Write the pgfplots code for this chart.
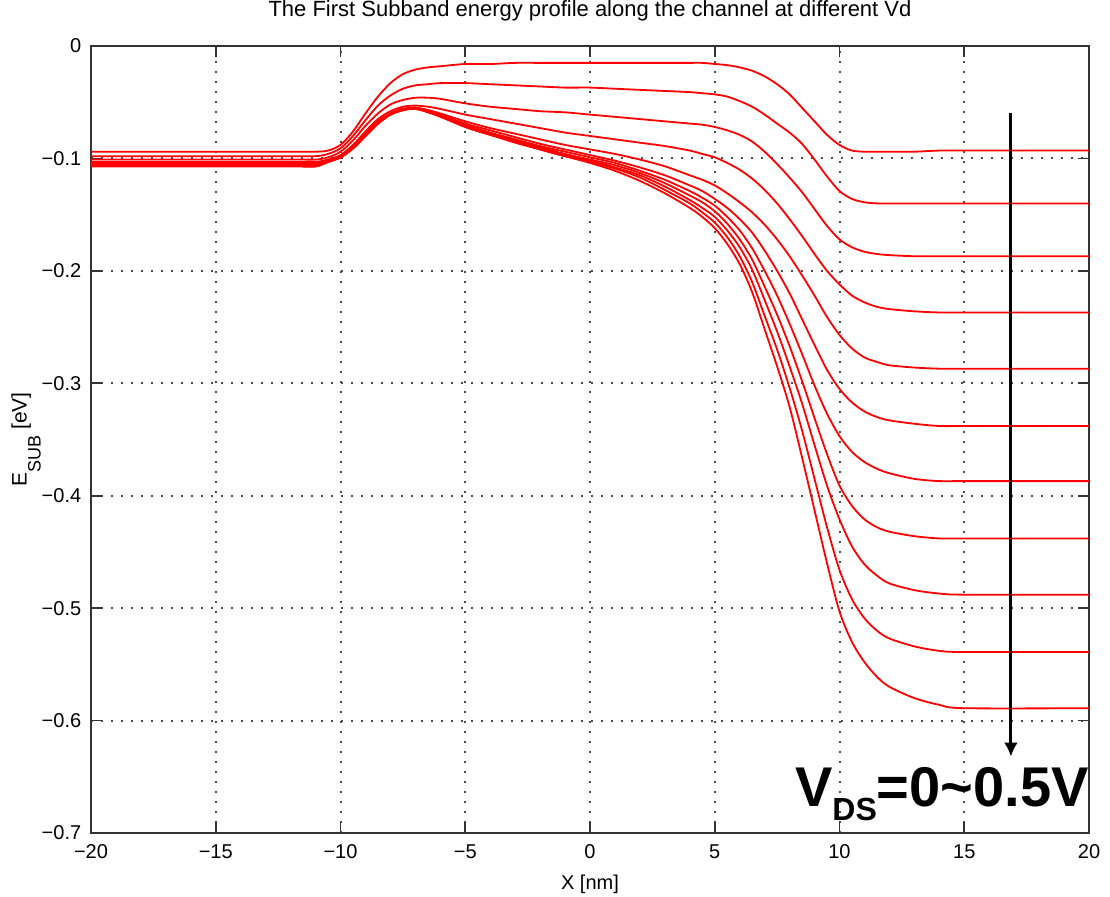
\documentclass[border=0pt]{standalone}
\usepackage{fontspec}
\setmainfont{Liberation Sans}
\usepackage{pgfplots}
\pgfplotsset{compat=1.18}
\usepackage{pgfplotstable}
\usetikzlibrary{arrows.meta}

\pgfplotstableread{
x     k0     k1     k2     k3     k4     k5     k6     k7     k8     k9     k10
-20   -0.094 -0.098 -0.101 -0.103 -0.104 -0.105 -0.106 -0.106 -0.107 -0.107 -0.107
-12   -0.094 -0.098 -0.101 -0.103 -0.104 -0.105 -0.106 -0.106 -0.107 -0.107 -0.107
-11   -0.094 -0.098 -0.101 -0.103 -0.104 -0.105 -0.106 -0.106 -0.107 -0.107 -0.107
-10.5 -0.093 -0.096 -0.099 -0.101 -0.102 -0.102 -0.103 -0.103 -0.103 -0.103 -0.103
-10   -0.088 -0.091 -0.094 -0.097 -0.098 -0.098 -0.099 -0.099 -0.099 -0.099 -0.099
-9.5  -0.076 -0.080 -0.084 -0.088 -0.089 -0.090 -0.090 -0.091 -0.091 -0.091 -0.091
-9    -0.060 -0.066 -0.071 -0.076 -0.078 -0.079 -0.079 -0.080 -0.080 -0.080 -0.080
-8.5  -0.045 -0.053 -0.060 -0.065 -0.067 -0.068 -0.068 -0.069 -0.069 -0.069 -0.069
-8    -0.033 -0.044 -0.052 -0.058 -0.060 -0.060 -0.061 -0.061 -0.061 -0.061 -0.061
-7.5  -0.025 -0.038 -0.048 -0.054 -0.056 -0.056 -0.056 -0.057 -0.057 -0.057 -0.057
-7    -0.021 -0.035 -0.046 -0.053 -0.055 -0.055 -0.055 -0.055 -0.055 -0.056 -0.056
-6.5  -0.019 -0.034 -0.046 -0.054 -0.057 -0.057 -0.058 -0.058 -0.058 -0.058 -0.059
-6    -0.018 -0.033 -0.047 -0.056 -0.060 -0.061 -0.061 -0.062 -0.062 -0.062 -0.063
-5    -0.016 -0.033 -0.051 -0.061 -0.067 -0.069 -0.070 -0.071 -0.071 -0.072 -0.072
-4    -0.016 -0.034 -0.054 -0.065 -0.073 -0.075 -0.077 -0.078 -0.078 -0.079 -0.079
-3    -0.015 -0.035 -0.056 -0.069 -0.078 -0.081 -0.083 -0.084 -0.085 -0.085 -0.086
-2    -0.015 -0.036 -0.058 -0.073 -0.083 -0.087 -0.089 -0.090 -0.091 -0.092 -0.092
-1    -0.015 -0.037 -0.059 -0.077 -0.088 -0.092 -0.094 -0.096 -0.097 -0.098 -0.098
0     -0.015 -0.037 -0.061 -0.080 -0.092 -0.097 -0.099 -0.101 -0.102 -0.103 -0.104
1     -0.015 -0.038 -0.063 -0.083 -0.096 -0.102 -0.104 -0.106 -0.108 -0.109 -0.111
2     -0.015 -0.039 -0.065 -0.086 -0.101 -0.108 -0.111 -0.113 -0.115 -0.117 -0.120
3     -0.015 -0.040 -0.067 -0.089 -0.107 -0.115 -0.119 -0.122 -0.125 -0.128 -0.131
4     -0.015 -0.041 -0.069 -0.093 -0.115 -0.124 -0.129 -0.133 -0.137 -0.140 -0.144
4.5   -0.015 -0.042 -0.070 -0.096 -0.119 -0.129 -0.135 -0.139 -0.144 -0.148 -0.152
5     -0.016 -0.043 -0.072 -0.099 -0.124 -0.136 -0.142 -0.147 -0.152 -0.157 -0.162
5.5   -0.017 -0.045 -0.075 -0.104 -0.131 -0.144 -0.152 -0.158 -0.164 -0.170 -0.176
6     -0.019 -0.049 -0.079 -0.110 -0.139 -0.154 -0.164 -0.172 -0.179 -0.187 -0.194
6.5   -0.022 -0.054 -0.085 -0.118 -0.148 -0.166 -0.180 -0.190 -0.199 -0.210 -0.219
7     -0.027 -0.061 -0.094 -0.128 -0.159 -0.182 -0.200 -0.214 -0.226 -0.240 -0.252
7.5   -0.034 -0.069 -0.105 -0.140 -0.172 -0.200 -0.222 -0.239 -0.254 -0.270 -0.285
8     -0.043 -0.077 -0.117 -0.154 -0.187 -0.220 -0.247 -0.267 -0.285 -0.304 -0.321
8.5   -0.055 -0.087 -0.130 -0.169 -0.204 -0.243 -0.274 -0.298 -0.318 -0.342 -0.366
9     -0.067 -0.101 -0.145 -0.185 -0.222 -0.266 -0.302 -0.331 -0.355 -0.385 -0.413
9.5   -0.079 -0.116 -0.160 -0.200 -0.241 -0.288 -0.327 -0.363 -0.391 -0.428 -0.460
10    -0.088 -0.129 -0.172 -0.212 -0.257 -0.305 -0.347 -0.391 -0.421 -0.466 -0.503
10.5  -0.093 -0.136 -0.179 -0.222 -0.269 -0.317 -0.361 -0.409 -0.445 -0.492 -0.530
11    -0.094 -0.139 -0.183 -0.228 -0.277 -0.325 -0.370 -0.421 -0.461 -0.509 -0.548
11.5  -0.094 -0.140 -0.185 -0.232 -0.281 -0.330 -0.376 -0.428 -0.471 -0.520 -0.561
12    -0.094 -0.140 -0.186 -0.234 -0.284 -0.333 -0.380 -0.432 -0.478 -0.527 -0.570
13    -0.094 -0.140 -0.187 -0.236 -0.286 -0.336 -0.385 -0.436 -0.484 -0.534 -0.580
14    -0.093 -0.140 -0.187 -0.237 -0.287 -0.338 -0.387 -0.438 -0.487 -0.538 -0.586
15    -0.093 -0.140 -0.187 -0.237 -0.287 -0.338 -0.387 -0.438 -0.488 -0.539 -0.589
20    -0.093 -0.140 -0.187 -0.237 -0.287 -0.338 -0.387 -0.438 -0.488 -0.539 -0.589
}\data

\begin{document}
\begin{tikzpicture}
\useasboundingbox (0,0) rectangle (555pt,448pt);
\begin{axis}[
  at={(45.5pt,31.5pt)}, anchor=south west,
  width=499pt, height=393.5pt, scale only axis,
  xmin=-20, xmax=20, ymin=-0.7, ymax=0,
  xtick={-20,-15,-10,-5,0,5,10,15,20},
  xticklabels={−20,−15,−10,−5,0,5,10,15,20},
  ytick={-0.7,-0.6,-0.5,-0.4,-0.3,-0.2,-0.1,0},
  yticklabels={−0.7,−0.6,−0.5,−0.4,−0.3,−0.2,−0.1,0},
  tick align=inside, tick pos=both,
  major tick length=5.5pt,
  tick style={line width=0.8pt, black!80},
  axis line style={line width=0.8pt, black!80},
  grid=major,
  major grid style={line width=1pt, black!70, dash pattern=on 1pt off 4pt},
  ticklabel style={font=\fontsize{10}{12}\selectfont},
  xticklabel style={anchor=base, yshift=-12.8pt, inner sep=0pt},
  yticklabel style={anchor=east, xshift=-4.7pt, inner sep=0pt},
  title={The First Subband energy profile along the channel at different Vd},
  title style={at={(axis description cs:0.5,1.0224)}, anchor=base, inner sep=0pt, font=\fontsize{11}{13}\selectfont},
  xlabel={X [nm]},
  xlabel style={at={(axis description cs:0.5,-0.0724)}, anchor=base, inner sep=0pt, font=\fontsize{10}{12}\selectfont},
  ylabel={E\raisebox{-7pt}{\fontsize{9}{9}\selectfont SUB} [eV]},
  ylabel style={at={(axis description cs:-0.0645,0.5)}, anchor=base, inner sep=0pt, font=\fontsize{10.5}{12}\selectfont},
  curve/.style={red, line width=0.9pt, smooth, mark=none},
]
\addplot[curve] table[x=x, y=k0] {\data};
\addplot[curve] table[x=x, y=k1] {\data};
\addplot[curve] table[x=x, y=k2] {\data};
\addplot[curve] table[x=x, y=k3] {\data};
\addplot[curve] table[x=x, y=k4] {\data};
\addplot[curve] table[x=x, y=k5] {\data};
\addplot[curve] table[x=x, y=k6] {\data};
\addplot[curve] table[x=x, y=k7] {\data};
\addplot[curve] table[x=x, y=k8] {\data};
\addplot[curve] table[x=x, y=k9] {\data};
\addplot[curve] table[x=x, y=k10] {\data};
\draw[line width=1.5pt, -{Latex[length=7pt,width=7pt]}] (axis cs:16.87,-0.060) -- (axis cs:16.87,-0.632);
\node[anchor=base east, inner sep=0pt, font=\fontsize{28}{30}\selectfont\bfseries] at (axis cs:20,-0.6766)
  {V\raisebox{-6.7pt}{\fontsize{16}{16}\selectfont DS}=0\textasciitilde 0.5V};
\end{axis}
\end{tikzpicture}
\end{document}
